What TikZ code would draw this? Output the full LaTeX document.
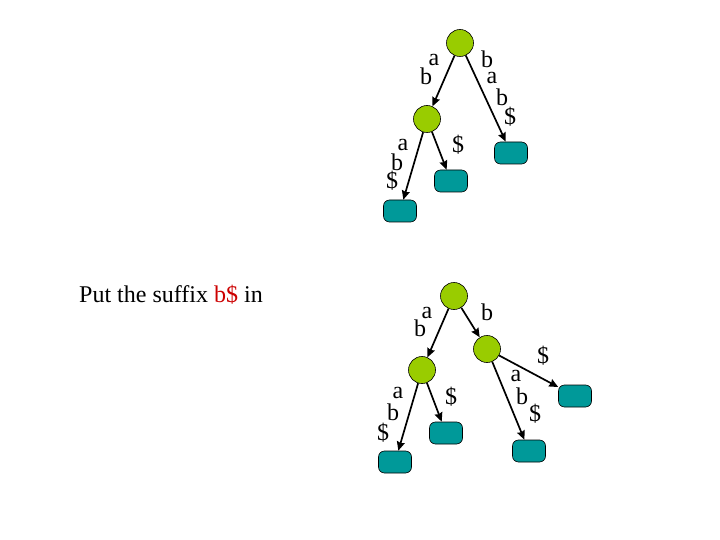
\documentclass[tikz,border=0pt]{standalone}
\usepackage{fontspec}
\setmainfont{Liberation Serif}
\usetikzlibrary{arrows.meta}
\definecolor{ngreen}{HTML}{99CC00}
\definecolor{nteal}{HTML}{009999}
\definecolor{sred}{HTML}{CC0000}
\begin{document}
\begin{tikzpicture}[x=1pt,y=-1pt,
  inner/.style={circle,draw=black,fill=ngreen,minimum size=27pt,inner sep=0pt,line width=0.6pt},
  leaf/.style={rectangle,rounded corners=6pt,draw=black,fill=nteal,minimum width=33pt,minimum height=22pt,inner sep=0pt,line width=0.6pt},
  edge/.style={draw=black,line width=1.7pt,-{Stealth[length=9pt,width=8pt,inset=1pt]}},
  lbl/.style={inner sep=0pt,font=\fontsize{24}{26}\selectfont}]
\useasboundingbox (0,0) rectangle (720,540);
% top tree
\node[inner] (r1) at (460,43) {};
\node[inner] (i1) at (427,119) {};
\node[leaf] (l1) at (400,211) {};
\node[leaf] (l2) at (451,181) {};
\node[leaf] (l3) at (511,153) {};
\draw[edge] (r1) -- (i1);
\draw[edge] (r1) -- (l3);
\draw[edge] (i1) -- (l1);
\draw[edge] (i1) -- (l2);
\node[lbl] (t1) at (434,60) {a};
\node[lbl] (t2) at (426,76) {b};
\node[lbl] (t3) at (487,59) {b};
\node[lbl] (t4) at (492,78) {a};
\node[lbl] (t5) at (502,97) {b};
\node[lbl] (t6) at (510,117) {\$};
\node[lbl] (t7) at (403,145) {a};
\node[lbl] (t8) at (397,162) {b};
\node[lbl] (t9) at (392,181) {\$};
\node[lbl] (t10) at (458,145) {\$};
% caption
\node[lbl,anchor=base west] (cap) at (79,302) {Put the suffix \textcolor{sred}{b\$} in};
% bottom tree
\node[inner] (r2) at (454,296) {};
\node[inner] (i2) at (422,370) {};
\node[inner] (i3) at (487,349) {};
\node[leaf] (m1) at (395,462) {};
\node[leaf] (m2) at (446,433) {};
\node[leaf] (m3) at (529,451) {};
\node[leaf] (m4) at (575,396) {};
\draw[edge] (r2) -- (i2);
\draw[edge] (r2) -- (i3);
\draw[edge] (i2) -- (m1);
\draw[edge] (i2) -- (m2);
\draw[edge] (i3) -- (m3);
\draw[edge] (i3) -- (m4);
\node[lbl] (b1) at (427,313) {a};
\node[lbl] (b2) at (420,328) {b};
\node[lbl] (b3) at (487,312) {b};
\node[lbl] (b4) at (398,393) {a};
\node[lbl] (b5) at (393,412) {b};
\node[lbl] (b6) at (383,433) {\$};
\node[lbl] (b7) at (451,397) {\$};
\node[lbl] (b8) at (543,356) {\$};
\node[lbl] (b9) at (516,376) {a};
\node[lbl] (b10) at (522,396) {b};
\node[lbl] (b11) at (535,414) {\$};
\end{tikzpicture}
\end{document}
